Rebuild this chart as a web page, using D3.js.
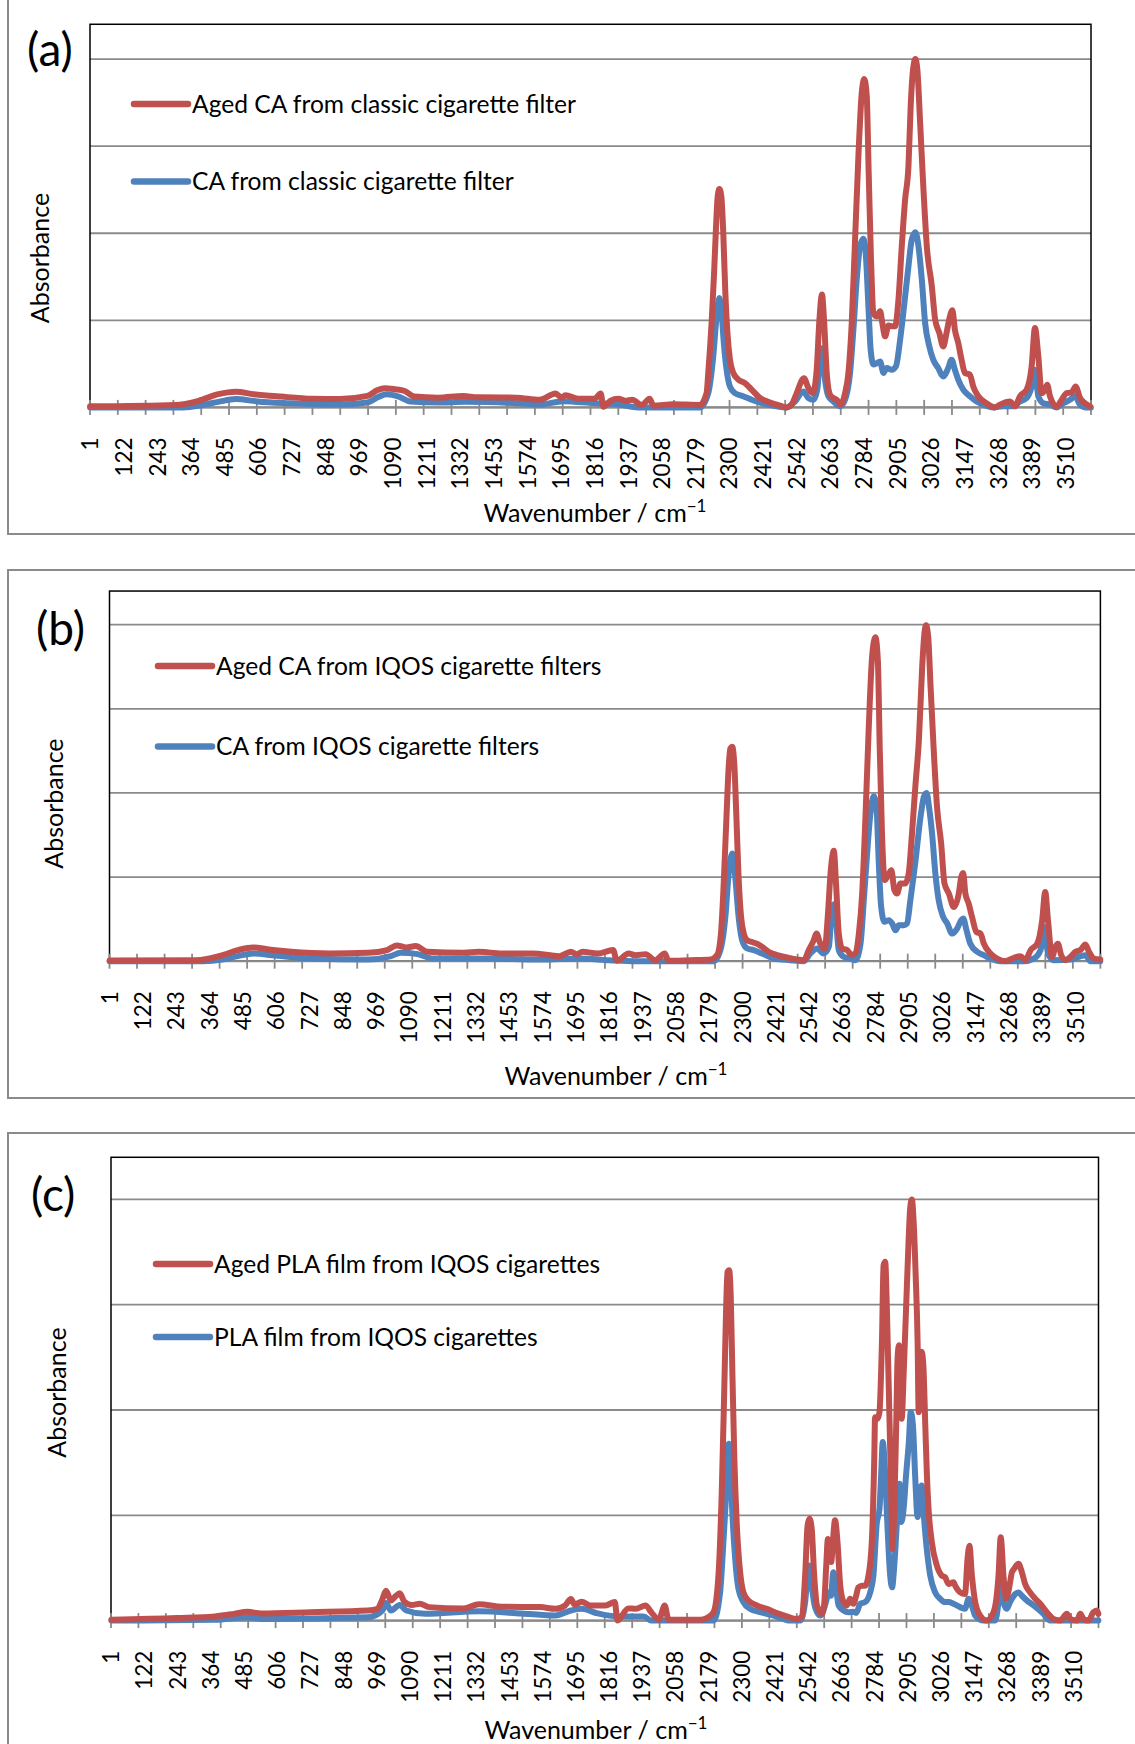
<!DOCTYPE html>
<html>
<head>
<meta charset="utf-8">
<script src="https://cdnjs.cloudflare.com/ajax/libs/d3/7.8.5/d3.min.js"></script>
<style>
  body { margin: 0; background: #fff; }
  svg { display: block; font-family: Lato, "Open Sans", sans-serif; }
</style>
</head>
<body>
<script>
// category labels shown on the x axis (every 121st point), ticks every 100 points
let tickLabels = [1,122,243,364,485,606,727,848,969,1090,1211,1332,1453,1574,1695,1816,1937,2058,2179,2300,2421,2542,2663,2784,2905,3026,3147,3268,3389,3510];
let nPoints = 3600;

// (a) aged / fresh CA from classic cigarette filter  [point index, absorbance]
let agedClassic = [[1,0.003],[307,0.007],[391,0.019],[462,0.038],[525,0.045],[589,0.038],[688,0.031],[800,0.025],[899,0.024],[998,0.033],[1033,0.049],[1061,0.055],[1097,0.052],[1132,0.047],[1167,0.031],[1252,0.028],[1343,0.033],[1393,0.029],[1534,0.028],[1618,0.022],[1675,0.040],[1696,0.028],[1710,0.035],[1759,0.025],[1816,0.025],[1837,0.040],[1847,0.002],[1872,0.019],[1900,0.025],[1929,0.019],[1950,0.022],[1985,0.007],[2013,0.025],[2027,0.005],[2098,0.009],[2194,0.007],
  [2218,0.041],[2224,0.099],[2236,0.242],[2245,0.386],[2252,0.520],[2258,0.606],[2264,0.627],[2271,0.606],[2278,0.501],[2285,0.338],[2293,0.214],[2302,0.137],[2314,0.099],[2332,0.080],[2356,0.070],[2380,0.051],[2410,0.027],[2446,0.014],[2482,0.005],[2506,0.0],[2524,0.008],[2542,0.041],[2568,0.084],[2584,0.056],[2600,0.041],[2614,0.108],[2623,0.242],[2633,0.324],[2641,0.242],[2650,0.099],[2662,0.036],[2674,0.027],[2686,0.022],[2700,0.008],[2716,0.041],[2728,0.099],[2740,0.242],[2752,0.482],[2764,0.721],[2776,0.903],[2785,0.943],[2794,0.894],[2801,0.673],[2809,0.434],[2818,0.271],[2830,0.261],[2842,0.276],[2850,0.242],[2860,0.204],[2872,0.235],[2884,0.233],[2896,0.233],[2908,0.309],[2920,0.463],[2932,0.597],[2944,0.693],[2952,0.865],[2962,0.980],[2969,1.0],[2976,0.970],[2986,0.817],[2998,0.625],[3010,0.463],[3028,0.348],[3040,0.252],[3055,0.214],[3069,0.175],[3081,0.214],[3093,0.261],[3102,0.279],[3111,0.223],[3123,0.185],[3135,0.137],[3147,0.099],[3165,0.094],[3177,0.060],[3195,0.032],[3225,0.012],[3255,0.0],[3273,0.008],[3309,0.017],[3327,0.003],[3345,0.032],[3369,0.051],[3387,0.118],[3399,0.228],[3411,0.147],[3423,0.041],[3435,0.051],[3443,0.065],[3453,0.032],[3477,0.003],[3495,0.022],[3513,0.041],[3531,0.043],[3545,0.060],[3561,0.027],[3579,0.012],[3597,0.003]];
let classic = [[1,0],[335,0],[406,0.007],[462,0.016],[525,0.024],[603,0.017],[716,0.012],[899,0.008],[998,0.014],[1040,0.031],[1068,0.038],[1111,0.031],[1153,0.017],[1252,0.014],[1350,0.016],[1534,0.012],[1618,0.008],[1703,0.018],[1816,0.012],[1900,0.009],[1971,0],[2194,0],
  [2224,0.041],[2242,0.147],[2254,0.261],[2264,0.314],[2272,0.271],[2281,0.175],[2290,0.108],[2302,0.060],[2320,0.041],[2350,0.032],[2380,0.022],[2422,0.011],[2470,0.003],[2506,0],[2536,0.017],[2566,0.046],[2584,0.027],[2602,0.022],[2616,0.051],[2626,0.147],[2633,0.170],[2641,0.099],[2656,0.032],[2674,0.017],[2698,0.003],[2716,0.022],[2734,0.099],[2746,0.223],[2758,0.367],[2770,0.463],[2782,0.484],[2791,0.434],[2800,0.290],[2808,0.166],[2818,0.123],[2830,0.127],[2842,0.132],[2854,0.099],[2866,0.113],[2884,0.108],[2899,0.118],[2914,0.194],[2928,0.290],[2944,0.405],[2956,0.482],[2969,0.503],[2980,0.463],[2992,0.367],[3004,0.242],[3019,0.175],[3033,0.137],[3051,0.113],[3069,0.089],[3087,0.113],[3099,0.137],[3111,0.108],[3123,0.080],[3141,0.051],[3165,0.032],[3189,0.017],[3213,0.008],[3249,0],[3285,0.003],[3321,0.003],[3345,0.017],[3369,0.027],[3387,0.060],[3399,0.108],[3411,0.032],[3429,0.012],[3453,0.008],[3477,0],[3501,0.012],[3525,0.022],[3543,0.032],[3561,0.008],[3579,0],[3600,0]];

// (b) aged / fresh CA from IQOS cigarette filters
let agedIqos = [[1,0.002],[314,0.003],[411,0.018],[467,0.033],[522,0.041],[578,0.035],[661,0.028],[801,0.023],[940,0.025],[1009,0.033],[1044,0.047],[1079,0.041],[1113,0.045],[1155,0.028],[1287,0.025],[1343,0.028],[1426,0.023],[1538,0.023],[1635,0.015],[1677,0.028],[1698,0.021],[1719,0.028],[1774,0.023],[1830,0.033],[1844,0.001],[1886,0.023],[1913,0.018],[1948,0.021],[1983,0.003],[2018,0.023],[2031,0.001],[2111,0.003],[2184,0.005],
  [2208,0.018],[2222,0.082],[2232,0.231],[2242,0.429],[2250,0.577],[2256,0.632],[2263,0.637],[2271,0.577],[2278,0.429],[2286,0.250],[2295,0.132],[2305,0.082],[2317,0.062],[2335,0.057],[2353,0.052],[2371,0.043],[2395,0.028],[2426,0.018],[2462,0.011],[2498,0.005],[2523,0.003],[2541,0.033],[2559,0.062],[2569,0.082],[2583,0.052],[2599,0.038],[2610,0.132],[2620,0.260],[2632,0.328],[2640,0.231],[2650,0.082],[2662,0.038],[2680,0.033],[2698,0.018],[2710,0.023],[2723,0.082],[2735,0.201],[2747,0.429],[2759,0.696],[2771,0.904],[2783,0.963],[2792,0.894],[2799,0.627],[2807,0.379],[2817,0.241],[2832,0.260],[2841,0.270],[2852,0.211],[2862,0.201],[2874,0.231],[2892,0.231],[2904,0.260],[2916,0.379],[2929,0.528],[2941,0.656],[2953,0.874],[2961,0.973],[2967,0.998],[2975,0.963],[2983,0.825],[2995,0.627],[3007,0.458],[3022,0.350],[3034,0.231],[3050,0.201],[3068,0.161],[3086,0.201],[3095,0.250],[3102,0.262],[3110,0.201],[3122,0.171],[3134,0.132],[3150,0.087],[3165,0.082],[3177,0.052],[3201,0.023],[3225,0.008],[3256,0],[3280,0.008],[3310,0.015],[3328,0.003],[3347,0.033],[3371,0.052],[3389,0.122],[3400,0.206],[3410,0.122],[3425,0.013],[3437,0.043],[3446,0.052],[3458,0.018],[3474,0.003],[3492,0.013],[3510,0.028],[3528,0.033],[3546,0.050],[3559,0.028],[3577,0.008],[3600,0.005]];
let iqos = [[1,0],[341,0],[411,0.005],[467,0.015],[522,0.023],[592,0.018],[731,0.008],[940,0.005],[1023,0.015],[1058,0.025],[1120,0.021],[1176,0.008],[1357,0.008],[1566,0.005],[1705,0.008],[1816,0.003],[1913,0],[2196,0],
  [2220,0.033],[2238,0.132],[2250,0.260],[2263,0.320],[2274,0.250],[2286,0.132],[2299,0.062],[2317,0.038],[2341,0.033],[2371,0.023],[2414,0.008],[2474,0.003],[2523,0],[2547,0.023],[2571,0.038],[2595,0.023],[2614,0.043],[2622,0.122],[2632,0.169],[2640,0.122],[2650,0.033],[2668,0.013],[2692,0.008],[2710,0.003],[2729,0.052],[2741,0.181],[2753,0.320],[2765,0.439],[2777,0.490],[2787,0.458],[2795,0.300],[2804,0.161],[2816,0.117],[2832,0.122],[2844,0.112],[2856,0.092],[2868,0.107],[2886,0.107],[2898,0.112],[2910,0.181],[2929,0.300],[2947,0.429],[2959,0.488],[2969,0.500],[2978,0.458],[2989,0.379],[3001,0.260],[3013,0.181],[3029,0.132],[3044,0.112],[3062,0.082],[3080,0.097],[3095,0.122],[3102,0.127],[3114,0.092],[3128,0.052],[3153,0.028],[3177,0.018],[3201,0.008],[3237,0],[3322,0],[3359,0.008],[3383,0.033],[3397,0.102],[3410,0.023],[3431,0.003],[3492,0.005],[3522,0.013],[3546,0.018],[3565,0],[3600,0]];

// (c) aged / fresh PLA film from IQOS cigarettes
let agedPla = [[2,0.002],[240,0.006],[379,0.010],[449,0.016],[498,0.021],[547,0.017],[728,0.020],[937,0.024],[972,0.028],[990,0.051],[1003,0.071],[1021,0.048],[1038,0.058],[1053,0.065],[1070,0.045],[1098,0.037],[1126,0.040],[1160,0.032],[1286,0.029],[1342,0.039],[1426,0.033],[1565,0.032],[1621,0.028],[1656,0.036],[1677,0.051],[1691,0.038],[1716,0.045],[1747,0.036],[1803,0.036],[1837,0.044],[1847,0.0],[1886,0.029],[1914,0.028],[1949,0.036],[1970,0.020],[1998,0.002],[2019,0.036],[2033,0.002],[2148,0.002],[2172,0.006],
  [2197,0.020],[2215,0.107],[2227,0.305],[2236,0.543],[2243,0.741],[2248,0.828],[2254,0.832],[2260,0.765],[2266,0.582],[2273,0.384],[2282,0.226],[2294,0.115],[2306,0.067],[2324,0.048],[2355,0.036],[2391,0.028],[2428,0.018],[2464,0.010],[2501,0.004],[2519,0.008],[2531,0.107],[2540,0.226],[2547,0.242],[2555,0.218],[2564,0.107],[2574,0.036],[2592,0.016],[2600,0.036],[2608,0.131],[2614,0.194],[2620,0.170],[2626,0.139],[2632,0.186],[2640,0.238],[2649,0.186],[2659,0.083],[2671,0.044],[2683,0.036],[2695,0.052],[2707,0.040],[2717,0.059],[2725,0.079],[2738,0.083],[2750,0.083],[2762,0.107],[2774,0.186],[2783,0.384],[2786,0.483],[2795,0.479],[2802,0.495],[2811,0.662],[2817,0.844],[2823,0.852],[2829,0.741],[2839,0.464],[2846,0.265],[2849,0.170],[2856,0.265],[2863,0.464],[2868,0.622],[2873,0.654],[2877,0.606],[2883,0.479],[2890,0.582],[2899,0.741],[2908,0.899],[2914,0.979],[2920,1.0],[2926,0.955],[2934,0.820],[2941,0.662],[2945,0.495],[2950,0.543],[2956,0.638],[2962,0.606],[2969,0.464],[2975,0.345],[2981,0.265],[2993,0.186],[3011,0.131],[3029,0.107],[3041,0.103],[3054,0.087],[3072,0.091],[3078,0.083],[3096,0.067],[3114,0.063],[3123,0.147],[3130,0.178],[3139,0.107],[3151,0.044],[3169,0.012],[3193,0],[3218,0.020],[3236,0.107],[3244,0.198],[3254,0.107],[3264,0.052],[3274,0.075],[3285,0.115],[3293,0.123],[3309,0.135],[3321,0.115],[3333,0.087],[3351,0.067],[3370,0.052],[3388,0.040],[3412,0.020],[3436,0.004],[3461,0],[3485,0.016],[3497,0.004],[3522,0],[3534,0.016],[3546,0.004],[3564,0],[3582,0.020],[3595,0.024],[3600,0.016]];
let pla = [[2,0],[379,0.002],[498,0.008],[547,0.004],[937,0.008],[990,0.024],[1003,0.042],[1021,0.024],[1053,0.037],[1077,0.024],[1146,0.016],[1342,0.022],[1496,0.017],[1621,0.012],[1677,0.024],[1716,0.028],[1775,0.017],[1844,0.010],[1942,0.010],[1970,0],[2197,0],
  [2221,0.067],[2233,0.186],[2243,0.305],[2249,0.408],[2253,0.420],[2258,0.384],[2265,0.265],[2276,0.147],[2288,0.075],[2306,0.044],[2330,0.028],[2367,0.020],[2416,0.012],[2476,0],[2513,0],[2531,0.044],[2540,0.107],[2547,0.131],[2555,0.083],[2567,0.032],[2586,0.012],[2610,0.052],[2616,0.067],[2625,0.059],[2634,0.115],[2643,0.083],[2653,0.036],[2671,0.024],[2689,0.020],[2707,0.021],[2717,0.018],[2732,0.040],[2750,0.044],[2768,0.067],[2780,0.107],[2792,0.230],[2802,0.265],[2808,0.345],[2814,0.424],[2823,0.345],[2831,0.226],[2841,0.107],[2848,0.079],[2856,0.131],[2865,0.226],[2875,0.325],[2882,0.234],[2890,0.265],[2899,0.345],[2909,0.424],[2916,0.495],[2924,0.464],[2932,0.345],[2941,0.246],[2950,0.313],[2956,0.321],[2962,0.265],[2972,0.186],[2987,0.107],[3005,0.067],[3023,0.052],[3041,0.044],[3054,0.044],[3072,0.040],[3096,0.032],[3114,0.028],[3127,0.052],[3135,0.044],[3151,0.012],[3181,0],[3224,0],[3236,0.044],[3244,0.095],[3254,0.044],[3266,0.028],[3278,0.044],[3297,0.063],[3309,0.067],[3321,0.059],[3339,0.048],[3364,0.036],[3400,0.016],[3424,0],[3600,0]];

let width = 1135;
let height = 1744;
let red = "#C0504D";
let blue = "#4F81BD";

let panels = [
  {tag:"(a)", red:agedClassic, blue:classic,
   names:["Aged CA from classic cigarette filter","CA from classic cigarette filter"],
   left:90, right:1091, base:407.4, unit:348.3, frame:[-10,534],
   tagX:27, tagY:65.5, legX:134, legY:[104,181.5], absX:48.5, absY:258, wavX:595, wavY:522},
  {tag:"(b)", red:agedIqos, blue:iqos,
   names:["Aged CA from IQOS cigarette filters","CA from IQOS cigarette filters"],
   left:109.5, right:1100.4, base:961.2, unit:336.5, frame:[570,1098],
   tagX:36, tagY:644.5, legX:158, legY:[666,746.6], absX:62.5, absY:803.6, wavX:616, wavY:1085},
  {tag:"(c)", red:agedPla, blue:pla,
   names:["Aged PLA film from IQOS cigarettes","PLA film from IQOS cigarettes"],
   left:111, right:1098.5, base:1620.6, unit:421.2, frame:[1133,1770],
   tagX:31, tagY:1211, legX:156, legY:[1264,1337], absX:66, absY:1392.5, wavX:596, wavY:1739}
];

let svg = d3.select("body")
            .append("svg")
            .attr("width", width)
            .attr("height", height);

panels.forEach(function(p) {
  let x = d3.scaleLinear().domain([0.5, nPoints + 0.5]).range([p.left, p.right]);
  let y = d3.scaleLinear().domain([0, 1.1]).range([p.base, p.base - 1.1 * p.unit]);
  let g = svg.append("g");

  // outer chart frame (runs off the right edge of the page)
  g.append("rect")
   .attr("x", 8).attr("y", p.frame[0])
   .attr("width", width + 20).attr("height", p.frame[1] - p.frame[0])
   .attr("fill", "none").attr("stroke", "#8a8a8a").attr("stroke-width", 2);

  // horizontal gridlines
  g.selectAll(".grid")
   .data([0.25, 0.5, 0.75, 1.0])
   .enter().append("line")
   .attr("x1", p.left).attr("x2", p.right)
   .attr("y1", d => y(d)).attr("y2", d => y(d))
   .attr("stroke", "#8a8a8a").attr("stroke-width", 1.8);

  // plot area border
  g.append("rect")
   .attr("x", p.left).attr("y", y(1.1))
   .attr("width", p.right - p.left).attr("height", y(0) - y(1.1))
   .attr("fill", "none").attr("stroke", "#000").attr("stroke-width", 1.5);

  // x axis line and crossing ticks every 100 points
  g.append("line")
   .attr("x1", p.left).attr("x2", p.right)
   .attr("y1", y(0)).attr("y2", y(0))
   .attr("stroke", "#8a8a8a").attr("stroke-width", 2);
  g.selectAll(".tick")
   .data(d3.range(0.5, nPoints + 1, 100))
   .enter().append("line")
   .attr("x1", d => x(d)).attr("x2", d => x(d))
   .attr("y1", y(0) - 7.5).attr("y2", y(0) + 7.5)
   .attr("stroke", "#8a8a8a").attr("stroke-width", 1.8);

  // rotated tick labels
  g.selectAll(".lab")
   .data(tickLabels)
   .enter().append("text")
   .attr("transform", d => `translate(${x(d)},${y(0) + 30}) rotate(-90)`)
   .attr("text-anchor", "end")
   .attr("dy", "0.36em")
   .attr("font-size", 22.5)
   .attr("fill", "#000")
   .text(d => d);

  // spectra
  let line = d3.line().x(d => x(d[0])).y(d => y(d[1])).curve(d3.curveMonotoneX);
  [[p.blue, blue], [p.red, red]].forEach(function(s) {
    g.append("path")
     .datum(s[0])
     .attr("d", line)
     .attr("fill", "none")
     .attr("stroke", s[1])
     .attr("stroke-width", 6)
     .attr("stroke-linejoin", "round")
     .attr("stroke-linecap", "round");
  });

  // legend
  [[red, p.names[0], p.legY[0]], [blue, p.names[1], p.legY[1]]].forEach(function(l) {
    g.append("line")
     .attr("x1", p.legX).attr("x2", p.legX + 54)
     .attr("y1", l[2]).attr("y2", l[2])
     .attr("stroke", l[0]).attr("stroke-width", 6.5).attr("stroke-linecap", "round");
    g.append("text")
     .attr("x", p.legX + 58).attr("y", l[2])
     .attr("dy", "0.35em")
     .attr("font-size", 24.6)
     .text(l[1]);
  });

  // panel tag
  g.append("text")
   .attr("x", p.tagX).attr("y", p.tagY)
   .attr("font-size", 46)
   .text(p.tag);

  // axis titles
  g.append("text")
   .attr("transform", `translate(${p.absX},${p.absY}) rotate(-90)`)
   .attr("text-anchor", "middle")
   .attr("font-size", 25)
   .text("Absorbance");
  let wt = g.append("text")
            .attr("x", p.wavX).attr("y", p.wavY)
            .attr("text-anchor", "middle")
            .attr("font-size", 25);
  wt.append("tspan").text("Wavenumber / cm");
  wt.append("tspan").attr("font-size", 17).attr("dy", -10).text("\u22121");
});
</script>
</body>
</html>
